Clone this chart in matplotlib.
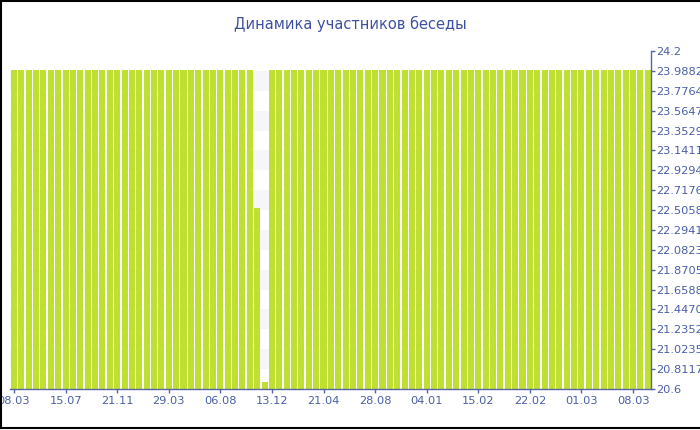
import matplotlib
matplotlib.use("Agg")
import matplotlib.pyplot as plt
from matplotlib.lines import Line2D

title = "Динамика участников беседы"

# 87 observations of the number of conversation participants
values = [24.0] * 33 + [22.53, 20.67] + [24.0] * 52

tick_labels = ["08.03", "15.07", "21.11", "29.03", "06.08", "13.12", "21.04",
               "28.08", "04.01", "15.02", "22.02", "01.03", "08.03"]
tick_step = 7

y_min, y_max = 20.6, 24.2
y_tick_labels = ["20.6", "20.8117", "21.0235", "21.2352", "21.4470", "21.6588",
                 "21.8705", "22.0823", "22.2941", "22.5058", "22.7176", "22.9294",
                 "23.1411", "23.3529", "23.5647", "23.7764", "23.9882", "24.2"]

bar_color = "#bfe032"
axis_color = "#5565a5"
text_color = "#4a5ea8"

fig = plt.figure(figsize=(7, 4.3), dpi=100)
ax = fig.add_axes([0.0147, 0.0953, 0.9160, 0.7861])

n_int = len(y_tick_labels) - 1
step = (y_max - y_min) / n_int
y_ticks = [y_min + i * step for i in range(n_int + 1)]
for i in range(n_int):
    if i % 2 == 1:
        ax.axhspan(y_ticks[i], y_ticks[i + 1], color="#f6f6f6", zorder=0, lw=0)

x = list(range(len(values)))
ax.bar(x, [v - y_min for v in values], bottom=y_min, width=0.82,
       color=bar_color, zorder=2, linewidth=0)

ax.set_xlim(-0.5, len(values) - 0.5)
ax.set_ylim(y_min, y_max)

ax.set_xticks(list(range(0, len(values), tick_step))[:len(tick_labels)])
ax.set_xticklabels(tick_labels)
ax.set_yticks(y_ticks)
ax.set_yticklabels(y_tick_labels)

ax.yaxis.tick_right()
for s in ["left", "top"]:
    ax.spines[s].set_visible(False)
for s in ["right", "bottom"]:
    ax.spines[s].set_color(axis_color)
    ax.spines[s].set_linewidth(1.0)

ax.tick_params(axis="both", colors=axis_color, labelcolor=text_color,
               labelsize=8.2, length=3, width=1)
ax.tick_params(axis="y", pad=0.5)
ax.tick_params(axis="x", pad=2)
ax.set_facecolor("white")

fig.text(0.5, 0.944, title, ha="center", va="center", fontsize=10.5,
         color="#3d519e")

# figure border (left, top, bottom)
fig.add_artist(Line2D([0.0015, 0.0015], [0.0047, 1.0], transform=fig.transFigure,
                      color="black", lw=1.5))
fig.add_artist(Line2D([0.0, 1.0], [0.9985, 0.9985], transform=fig.transFigure,
                      color="black", lw=1.5))
fig.add_artist(Line2D([0.0, 1.0], [0.0047, 0.0047], transform=fig.transFigure,
                      color="black", lw=1.5))

fig.savefig("out.png", dpi=100)
